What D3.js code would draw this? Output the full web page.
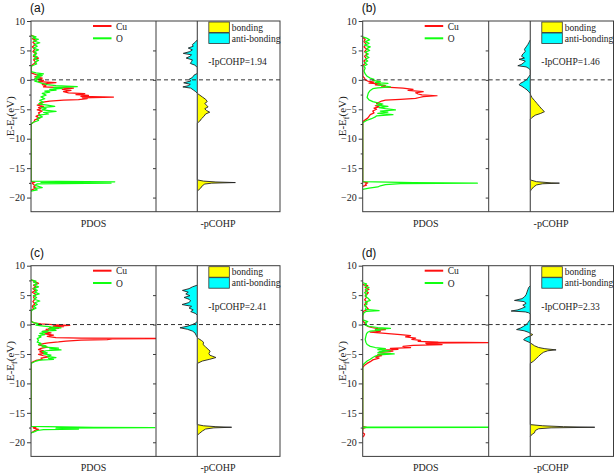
<!DOCTYPE html>
<html><head><meta charset="utf-8">
<script src="https://cdn.jsdelivr.net/npm/d3@7/dist/d3.min.js"></script>
<style>body{margin:0;background:#fff}svg{display:block}</style>
</head><body><svg id="c" width="615" height="475"></svg>
<script>
const panelLabels = ["(a)","(b)","(c)","(d)"];
const ipcohpLabels = ["-IpCOHP=1.94","-IpCOHP=1.46","-IpCOHP=2.41","-IpCOHP=2.33"];
const yMajor = [10,5,0,-5,-10,-15,-20];
const yMinor = [7.5,2.5,-2.5,-7.5,-12.5,-17.5];
const seriesNames = ["Cu","O"];
const cohpNames = ["bonding","anti-bonding"];

// [energy (eV), PDOS]
const cuA = [[7.6,0],[7.3,0.3],[7.0,0.1],[6.7,0.4],[6.4,0.15],[6.0,0.35],[5.6,0.1],[5.2,0.3],[4.8,0.15],[4.4,0.4],[4.0,0.2],[3.7,0.6],[3.4,0.2],[3.0,0.4],[2.6,0.15],[2.3,0],
[1.2,0],[0.9,0.4],[0.7,0.8],[0.5,0.3],[0.3,0.9],[0.1,0.5],[-0.1,1.0],[-0.3,0.6],[-0.45,2.0],[-0.6,1.3],[-0.8,0.9],[-1.0,1.2],[-1.2,1.0],[-1.4,3.4],[-1.6,2.5],[-1.8,3.2],[-2.0,2.6],[-2.2,3.0],[-2.35,4.3],[-2.5,3.6],[-2.65,4.6],[-2.8,4.0],[-2.93,6.6],[-3.05,4.1],[-3.2,4.5],[-3.35,3.8],[-3.45,2.6],[-3.6,1.5],[-3.75,1.1],[-3.9,0.7],[-4.1,0.9],[-4.3,0.5],[-4.5,1.0],[-4.7,0.6],[-4.9,0.8],[-5.1,0.5],[-5.3,0.9],[-5.6,0.6],[-5.9,0.7],[-6.2,0.4],[-6.5,0.7],[-6.8,0.3],[-7.1,0.25],[-7.5,0],
[-17.25,0],[-17.4,0.3],[-17.55,0.1],[-17.8,0.2],[-18.0,0.35],[-18.2,0.2],[-18.4,0.4],[-18.6,0.15],[-18.8,0]];
const oA = [[7.5,0],[7.3,0.4],[7.1,0.15],[6.9,0.6],[6.6,0.2],[6.3,0.7],[6.0,0.25],[5.7,0.5],[5.4,0.2],[5.1,0.6],[4.8,0.25],[4.5,0.45],[4.2,0.2],[3.9,0.5],[3.6,0.25],[3.3,0.6],[3.0,0.3],[2.7,0.45],[2.4,0.1],[2.2,0],
[1.4,0],[1.2,0.4],[1.0,1.0],[0.85,0.5],[0.7,0.9],[0.5,0.4],[0.35,0.7],[0.2,0.3],[0.0,0.5],[-0.2,0.3],[-0.4,0.6],[-0.6,0.9],[-0.8,1.3],[-1.0,2.0],[-1.15,3.7],[-1.3,1.8],[-1.45,2.5],[-1.6,1.5],[-1.75,2.0],[-1.9,1.1],[-2.1,1.5],[-2.3,0.9],[-2.6,1.2],[-2.9,0.8],[-3.2,1.1],[-3.5,0.7],[-3.8,1.0],[-4.1,0.6],[-4.3,1.3],[-4.5,1.9],[-4.7,0.8],[-4.9,1.2],[-5.1,0.9],[-5.35,2.0],[-5.55,1.0],[-5.8,1.4],[-6.0,0.6],[-6.3,0.9],[-6.6,0.5],[-6.9,0.6],[-7.2,0.2],[-7.5,0],
[-17.2,0],[-17.33,6.7],[-17.42,0.8],[-17.55,6.4],[-17.68,0.5],[-17.9,0.3],[-18.1,0.6],[-18.3,0.9],[-18.45,0.3],[-18.7,0.5],[-18.9,0]];
const cohpA = [[6.8,0],[6.4,-0.05],[6.0,-0.12],[5.7,-0.1],[5.4,-0.22],[5.1,-0.12],[4.8,-0.18],[4.5,-0.34],[4.25,-0.14],[4.0,-0.18],[3.7,-0.27],[3.4,-0.12],[3.1,-0.14],[2.8,-0.17],[2.5,-0.06],[2.1,0],
[1.1,0],[0.8,-0.08],[0.4,-0.12],[0.1,-0.2],[-0.2,-0.16],[-0.5,-0.33],[-0.75,-0.17],[-1.0,-0.22],[-1.2,-0.35],[-1.4,-0.16],[-1.7,-0.1],[-2.0,-0.04],[-2.3,0],
[-2.5,0.04],[-2.9,0.12],[-3.3,0.2],[-3.7,0.24],[-4.0,0.18],[-4.3,0.22],[-4.6,0.26],[-4.9,0.18],[-5.2,0.22],[-5.5,0.3],[-5.8,0.2],[-6.2,0.16],[-6.6,0.1],[-7.0,0.06],[-7.35,0],
[-17.0,0],[-17.2,0.15],[-17.35,0.45],[-17.45,0.92],[-17.55,0.35],[-17.7,0.18],[-18.0,0.12],[-18.4,0.08],[-18.9,0]];

const cuB = [[7.2,0],[6.9,0.2],[6.5,0.1],[6.0,0.3],[5.6,0.1],[5.2,0.3],[4.8,0.15],[4.4,0.35],[4.0,0.15],[3.6,0.3],[3.2,0.1],[2.8,0.2],[2.4,0],
[0.6,0],[0.3,0.15],[0.0,0.2],[-0.2,0.4],[-0.4,0.9],[-0.55,0.5],[-0.7,1.4],[-0.85,1.0],[-1.0,1.8],[-1.2,1.5],[-1.4,3.2],[-1.6,4.0],[-1.8,3.6],[-2.0,4.8],[-2.2,4.2],[-2.4,4.4],[-2.55,4.7],[-2.7,5.9],[-2.85,4.8],[-3.0,4.5],[-3.15,4.2],[-3.3,3.0],[-3.45,1.8],[-3.6,1.5],[-3.8,1.3],[-4.0,1.1],[-4.2,1.5],[-4.4,1.0],[-4.6,1.3],[-4.8,0.9],[-5.0,1.1],[-5.3,0.8],[-5.6,0.9],[-5.9,0.6],[-6.2,0.5],[-6.5,0.4],[-6.8,0.2],[-7.1,0],
[-17.3,0],[-17.5,0.4],[-17.7,0.2],[-17.9,0.3],[-18.1,0]];
const oB = [[7.3,0],[7.1,0.3],[6.8,0.55],[6.5,0.2],[6.2,0.5],[5.9,0.15],[5.6,0.6],[5.3,0.3],[5.0,0.55],[4.7,0.2],[4.4,0.45],[4.1,0.25],[3.8,0.5],[3.5,0.2],[3.2,0.4],[2.9,0.15],[2.6,0.35],[2.3,0.1],[2.0,0.2],[1.5,0.1],[1.0,0.2],[0.6,0.35],[0.3,0.6],[0.1,0.9],[-0.1,0.8],[-0.3,1.4],[-0.45,1.0],[-0.6,2.0],[-0.8,1.2],[-1.0,1.6],[-1.2,2.2],[-1.35,1.2],[-1.5,0.8],[-1.8,0.6],[-2.2,0.45],[-2.6,0.4],[-3.0,0.35],[-3.4,0.5],[-3.7,0.8],[-3.9,1.2],[-4.1,1.6],[-4.3,1.1],[-4.5,2.0],[-4.7,1.3],[-4.9,1.8],[-5.1,2.6],[-5.3,1.4],[-5.5,2.0],[-5.7,1.2],[-5.9,2.4],[-6.1,1.1],[-6.3,1.0],[-6.6,0.7],[-6.9,0.3],[-7.3,0],
[-17.3,0],[-17.45,4.0],[-17.55,9.1],[-17.65,3.0],[-17.8,1.8],[-18.0,1.4],[-18.2,1.2],[-18.4,0.5],[-18.6,0]];
const cohpB = [[6.8,0],[6.4,-0.03],[6.0,-0.06],[5.6,-0.1],[5.2,-0.14],[4.8,-0.12],[4.4,-0.18],[4.0,-0.21],[3.7,-0.14],[3.5,-0.27],[3.2,-0.12],[2.9,-0.16],[2.6,-0.22],[2.4,-0.3],[2.2,-0.1],[2.0,-0.05],[1.7,0],
[0.9,0],[0.6,-0.03],[0.3,-0.06],[0.0,-0.1],[-0.3,-0.16],[-0.6,-0.24],[-0.85,-0.27],[-1.1,-0.2],[-1.4,-0.14],[-1.7,-0.08],[-2.0,-0.04],[-2.3,0],
[-2.6,0.01],[-3.0,0.04],[-3.5,0.1],[-4.0,0.16],[-4.5,0.22],[-5.0,0.28],[-5.4,0.34],[-5.7,0.25],[-6.0,0.12],[-6.4,0.04],[-6.7,0],
[-17.0,0],[-17.3,0.15],[-17.5,0.5],[-17.55,0.7],[-17.65,0.3],[-17.85,0.15],[-18.2,0.08],[-18.6,0.03],[-18.9,0]];

const cuC = [[7.6,0],[7.3,0.3],[7.0,0.6],[6.7,0.2],[6.4,0.4],[6.1,0.15],[5.8,0.35],[5.5,0.1],[5.1,0.4],[4.7,0.2],[4.3,0.3],[3.9,0.15],[3.5,0.3],[3.1,0.1],[2.7,0.2],[2.4,0],
[0.6,0],[0.3,0.2],[0.1,0.8],[-0.05,2.0],[-0.15,3.1],[-0.25,1.8],[-0.35,2.6],[-0.5,1.5],[-0.65,2.2],[-0.8,1.2],[-1.0,1.4],[-1.2,0.9],[-1.4,1.6],[-1.6,1.1],[-1.8,1.8],[-2.0,1.3],[-2.2,2.0],[-2.3,4.0],[-2.37,10.5],[-2.45,6.5],[-2.55,6.1],[-2.65,4.0],[-2.8,2.8],[-2.95,2.2],[-3.1,1.4],[-3.25,1.0],[-3.45,0.6],[-3.65,1.0],[-3.85,1.3],[-4.05,0.8],[-4.25,0.6],[-4.45,1.0],[-4.65,0.7],[-4.85,1.1],[-5.05,0.6],[-5.3,1.0],[-5.5,1.4],[-5.7,0.8],[-5.9,0.9],[-6.1,0.4],[-6.3,0.2],[-6.5,0],
[-17.3,0],[-17.45,0.4],[-17.6,0.2],[-17.8,0.6],[-18.0,0.3],[-18.2,0.2],[-18.4,0]];
const oC = [[7.6,0],[7.4,0.4],[7.2,0.2],[7.0,0.5],[6.7,0.25],[6.4,0.6],[6.1,0.2],[5.8,0.5],[5.5,0.3],[5.2,0.65],[4.9,0.2],[4.6,0.45],[4.3,0.25],[4.0,0.7],[3.7,0.3],[3.4,0.5],[3.1,0.2],[2.8,0.4],[2.5,0.1],[2.2,0],
[0.5,0],[0.3,0.3],[0.1,0.6],[-0.1,0.4],[-0.25,1.0],[-0.4,1.6],[-0.55,2.4],[-0.7,1.4],[-0.85,1.9],[-1.0,2.0],[-1.15,0.9],[-1.3,1.3],[-1.5,0.7],[-1.7,1.1],[-1.9,0.6],[-2.1,0.8],[-2.4,0.5],[-2.7,0.6],[-3.0,0.5],[-3.2,0.8],[-3.4,0.6],[-3.6,1.2],[-3.8,0.9],[-4.0,2.2],[-4.15,1.5],[-4.3,2.4],[-4.45,1.2],[-4.6,0.9],[-4.8,1.3],[-5.0,1.0],[-5.2,1.6],[-5.4,1.3],[-5.6,2.0],[-5.75,1.4],[-5.9,1.8],[-6.05,0.7],[-6.2,0.4],[-6.4,0.2],[-6.6,0],
[-17.3,0],[-17.45,5],[-17.52,9.9],[-17.6,2.0],[-17.75,3.8],[-17.85,1.0],[-18.0,0.5],[-18.2,0.3],[-18.4,0]];
const cohpC = [[6.7,0],[6.4,-0.12],[6.1,-0.2],[5.8,-0.36],[5.5,-0.22],[5.2,-0.28],[4.9,-0.18],[4.6,-0.32],[4.3,-0.2],[4.0,-0.16],[3.7,-0.22],[3.4,-0.37],[3.1,-0.14],[2.8,-0.2],[2.5,-0.1],[2.2,-0.16],[1.9,-0.05],[1.6,0],
[0.6,0],[0.3,-0.03],[0.0,-0.12],[-0.3,-0.25],[-0.55,-0.42],[-0.8,-0.24],[-1.1,-0.12],[-1.4,-0.06],[-1.8,-0.03],[-2.2,0],
[-2.4,0.03],[-2.7,0.1],[-3.0,0.15],[-3.4,0.14],[-3.8,0.2],[-4.2,0.26],[-4.5,0.31],[-4.9,0.28],[-5.2,0.3],[-5.6,0.45],[-5.9,0.3],[-6.2,0.12],[-6.6,0],
[-17.0,0],[-17.2,0.15],[-17.35,0.45],[-17.45,0.83],[-17.55,0.4],[-17.75,0.2],[-18.1,0.12],[-18.5,0.05],[-18.8,0]];

const cuD = [[6.8,0],[6.6,0.4],[6.3,0.2],[6.0,0.5],[5.7,0.2],[5.4,0.45],[5.0,0.2],[4.6,0.3],[4.2,0.15],[3.8,0.35],[3.4,0.15],[3.0,0.3],[2.6,0.45],[2.3,0.1],[2.0,0],
[0.6,0],[0.3,0.15],[0.0,0.2],[-0.3,0.4],[-0.5,0.7],[-0.7,1.2],[-0.85,1.8],[-1.0,1.0],[-1.15,1.4],[-1.3,0.6],[-1.5,1.8],[-1.7,3.0],[-1.9,3.8],[-2.1,3.4],[-2.3,4.2],[-2.5,3.9],[-2.7,4.6],[-2.85,4.4],[-3.0,6.0],[-3.06,10.5],[-3.15,5.0],[-3.3,5.1],[-3.4,6.3],[-3.55,4.0],[-3.7,3.2],[-3.9,3.8],[-4.05,2.2],[-4.2,2.8],[-4.35,1.6],[-4.5,2.4],[-4.7,1.3],[-4.9,2.2],[-5.1,1.2],[-5.3,1.5],[-5.5,1.0],[-5.7,1.3],[-6.0,0.8],[-6.3,0.6],[-6.6,0.35],[-6.9,0.15],[-7.3,0],
[-17.3,0],[-17.45,0.3],[-17.6,0.1],[-17.8,0],[-18.4,0],[-18.6,0.15],[-18.9,0.1],[-19.1,0]];
const oD = [[7.1,0],[6.9,0.3],[6.6,0.15],[6.3,0.5],[6.0,0.2],[5.7,0.4],[5.4,0.15],[5.1,0.35],[4.8,0.2],[4.5,0.4],[4.1,0.6],[3.8,0.2],[3.5,0.35],[3.2,0.15],[2.9,0.3],[2.6,0.2],[2.35,1.3],[2.25,0.3],[2.0,0.1],[1.5,0],
[0.8,0],[0.5,0.4],[0.3,0.2],[0.1,0.3],[-0.1,0.2],[-0.3,0.5],[-0.5,1.2],[-0.65,2.2],[-0.8,1.0],[-0.95,1.4],[-1.1,0.6],[-1.3,0.4],[-1.6,0.3],[-2.0,0.25],[-2.5,0.2],[-3.0,0.25],[-3.4,0.35],[-3.7,0.6],[-3.9,1.0],[-4.1,1.8],[-4.25,1.2],[-4.45,2.2],[-4.6,1.4],[-4.8,1.2],[-5.0,2.5],[-5.15,1.3],[-5.35,1.0],[-5.6,0.8],[-5.9,0.6],[-6.2,0.35],[-6.5,0.2],[-6.8,0.05],[-7.0,0],
[-17.38,0],[-17.45,10.5],[-17.52,0],[-18.0,0]];
const cohpD = [[6.6,0],[6.3,-0.04],[5.9,-0.06],[5.5,-0.08],[5.1,-0.1],[4.7,-0.14],[4.4,-0.2],[4.1,-0.38],[3.9,-0.15],[3.6,-0.1],[3.3,-0.18],[3.0,-0.12],[2.7,-0.22],[2.5,-0.3],[2.3,-0.46],[2.15,-0.12],[2.0,-0.04],[1.8,0],
[0.9,0],[0.6,-0.03],[0.3,-0.06],[0.0,-0.1],[-0.3,-0.16],[-0.6,-0.24],[-0.85,-0.33],[-1.05,-0.15],[-1.3,-0.05],[-1.5,0],[-1.7,0.06],[-1.9,0.02],[-2.1,-0.06],[-2.4,-0.14],[-2.6,-0.16],[-2.85,-0.08],[-3.1,0],
[-3.3,0.04],[-3.6,0.1],[-3.9,0.2],[-4.1,0.35],[-4.3,0.62],[-4.45,0.42],[-4.7,0.32],[-5.0,0.26],[-5.4,0.2],[-5.8,0.14],[-6.2,0.08],[-6.6,0],
[-17.0,0],[-17.2,0.3],[-17.35,0.8],[-17.45,1.55],[-17.55,0.5],[-17.7,0.2],[-18.0,0.12],[-18.4,0.1],[-18.6,0.05],[-19.0,0]];

const panelsData = [
  {cu:cuA, o:oA, cohp:cohpA},
  {cu:cuB, o:oB, cohp:cohpB},
  {cu:cuC, o:oC, cohp:cohpC},
  {cu:cuD, o:oD, cohp:cohpD}
];

const cols = [{left:31, div:156, right:280},{left:362.7, div:488.7, right:613.5}];
const rows = [{top:21, bottom:211.7},{top:265.7, bottom:456.4}];
const serif = "'Liberation Serif','Times New Roman',serif";
const frameColor = "#3c3c3c";
const cuColor = "#ff1010", oColor = "#10ff10";

const svg = d3.select("#c");
const defs = svg.append("defs");

panelsData.forEach((pd, i) => {
  const col = cols[i % 2], row = rows[Math.floor(i / 2)];
  const g = svg.append("g");
  const y = d3.scaleLinear().domain([-22.4, 10]).range([row.bottom, row.top]);
  const xP = d3.scaleLinear().domain([0, 10]).range([col.left, col.div]);
  const xC = d3.scaleLinear().domain([-1, 2]).range([col.div, col.right]);

  const clipId = "clip" + i;
  defs.append("clipPath").attr("id", clipId).append("rect")
    .attr("x", col.left).attr("y", row.top).attr("width", col.div - col.left).attr("height", row.bottom - row.top);

  // PDOS lines
  const line = d3.line().x(d => xP(d[1])).y(d => y(d[0]));
  g.append("path").datum(pd.cu).attr("d", line).attr("fill", "none")
    .attr("stroke", cuColor).attr("stroke-width", 1.25).attr("stroke-linejoin", "round").attr("clip-path", `url(#${clipId})`);
  g.append("path").datum(pd.o).attr("d", line).attr("fill", "none")
    .attr("stroke", oColor).attr("stroke-width", 1.25).attr("stroke-linejoin", "round").attr("clip-path", `url(#${clipId})`);

  // COHP fills
  const z = xC(0);
  const areaNeg = d3.area().y(d => y(d[0])).x0(z).x1(d => xC(Math.min(0, d[1])));
  const areaPos = d3.area().y(d => y(d[0])).x0(z).x1(d => xC(Math.max(0, d[1])));
  g.append("path").datum(pd.cohp).attr("d", areaNeg).attr("fill", "#00ffff");
  g.append("path").datum(pd.cohp).attr("d", areaPos).attr("fill", "#ffff00");
  const cl = d3.line().x(d => xC(d[1])).y(d => y(d[0]));
  g.append("path").datum(pd.cohp).attr("d", cl).attr("fill", "none")
    .attr("stroke", "#222").attr("stroke-width", 0.9);

  // zero line in COHP
  g.append("line").attr("x1", z).attr("x2", z).attr("y1", row.top).attr("y2", row.bottom)
    .attr("stroke", "#555").attr("stroke-width", 1.2);

  // frame
  g.append("rect").attr("x", col.left).attr("y", row.top)
    .attr("width", col.right - col.left).attr("height", row.bottom - row.top)
    .attr("fill", "none").attr("stroke", frameColor).attr("stroke-width", 1);
  g.append("line").attr("x1", col.div).attr("x2", col.div).attr("y1", row.top).attr("y2", row.bottom)
    .attr("stroke", frameColor).attr("stroke-width", 1);

  // Fermi level dashed
  g.append("line").attr("x1", col.left).attr("x2", col.right).attr("y1", y(0)).attr("y2", y(0))
    .attr("stroke", "#333").attr("stroke-width", 1).attr("stroke-dasharray", "4,3");

  // left axis
  const ax = d3.axisLeft(y).tickValues(yMajor).tickSize(4).tickPadding(2);
  const axg = g.append("g").attr("transform", `translate(${col.left},0)`).call(ax);
  axg.select(".domain").remove();
  axg.selectAll("line").attr("stroke", frameColor);
  axg.selectAll("text").attr("font-family", serif).attr("font-size", 10).attr("fill", "#222");
  const axm = d3.axisLeft(y).tickValues(yMinor).tickSize(2).tickFormat("");
  const axmg = g.append("g").attr("transform", `translate(${col.left},0)`).call(axm);
  axmg.select(".domain").remove();
  axmg.selectAll("line").attr("stroke", frameColor);
  // inner ticks at divider
  const axr = d3.axisLeft(y).tickValues(yMajor.filter(v => v < 10)).tickSize(-3).tickFormat("");
  const axrg = g.append("g").attr("transform", `translate(${col.div},0)`).call(axr);
  axrg.select(".domain").remove();
  axrg.selectAll("line").attr("stroke", frameColor).attr("x2", -3);

  // y label
  const cy = (row.top + row.bottom) / 2;
  const yl = g.append("text").attr("transform", `translate(${col.left - 17},${cy}) rotate(-90)`)
    .attr("text-anchor", "middle").attr("font-family", serif).attr("font-size", 11).attr("fill", "#222");
  yl.append("tspan").text("E-E");
  yl.append("tspan").text("f").attr("font-size", 8).attr("dy", 3);
  yl.append("tspan").text("(eV)").attr("dy", -3);

  // bottom labels
  g.append("text").attr("x", (col.left + col.div) / 2).attr("y", row.bottom + 15)
    .attr("text-anchor", "middle").attr("font-family", serif).attr("font-size", 10).attr("fill", "#222").text("PDOS");
  g.append("text").attr("x", (col.div + col.right) / 2).attr("y", row.bottom + 15)
    .attr("text-anchor", "middle").attr("font-family", serif).attr("font-size", 10).attr("fill", "#222").text("-pCOHP");

  // panel label
  g.append("text").attr("x", col.left - 1).attr("y", row.top - 9)
    .attr("font-family", "'Liberation Sans',Arial,sans-serif").attr("font-size", 12).attr("fill", "#111").text(panelLabels[i]);

  // PDOS legend
  [cuColor, oColor].forEach((c, k) => {
    const ly = row.top + 5 + k * 12.3;
    g.append("line").attr("x1", col.left + 62).attr("x2", col.left + 80.5).attr("y1", ly).attr("y2", ly)
      .attr("stroke", c).attr("stroke-width", 2);
    g.append("text").attr("x", col.left + 85).attr("y", ly + 3.5).attr("font-family", serif)
      .attr("font-size", 9.5).attr("fill", "#222").text(seriesNames[k]);
  });

  // COHP legend
  ["#ffff00", "#00ffff"].forEach((c, k) => {
    const ly = row.top + 1 + k * 11;
    g.append("rect").attr("x", z + 11.5).attr("y", ly).attr("width", 20.5).attr("height", 10.5)
      .attr("fill", c).attr("stroke", "#333").attr("stroke-width", 0.8);
    g.append("text").attr("x", z + 34.5).attr("y", ly + 8.5).attr("font-family", serif)
      .attr("font-size", 9.5).attr("fill", "#222").text(cohpNames[k]);
  });
  g.append("text").attr("x", z + 11).attr("y", row.top + 44).attr("font-family", serif)
    .attr("font-size", 9.5).attr("fill", "#222").text(ipcohpLabels[i]);
});
</script>
</body></html>
